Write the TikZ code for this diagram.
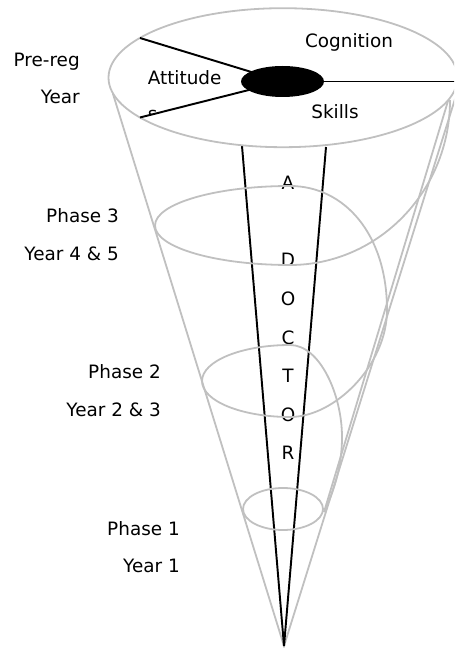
\documentclass[tikz,border=0pt]{standalone}
\usepackage{fontspec}
\setmainfont{DejaVu Sans}
\definecolor{lgray}{RGB}{192,192,192}
\begin{document}
\begin{tikzpicture}[x=0.75pt,y=-0.75pt,
  gline/.style={draw=lgray,line width=1.35pt},
  bline/.style={draw=black,line width=1.45pt},
  lbl/.style={font=\fontsize{13.8}{16}\selectfont,inner sep=0pt}]
\useasboundingbox (0,0) rectangle (454,648);
\clip (0,0) rectangle (454,648);
% text of the column
\foreach \t/\yy [count=\i] in {A/190,D/267,O/305.5,C/344,T/382.5,O/421,R/459.5}
  \node[lbl,anchor=base] (doc\i) at (288,\yy) {\t};
% cone
\coordinate (apex) at (284,646);
\coordinate (cl) at (113,94);
\coordinate (cr) at (455,99);
\draw[gline] (cl) -- (apex) -- (cr);
% inner right line
\coordinate (p1r) at (324,512);
\coordinate (inTop) at (448,101);
\draw[gline] (p1r) -- (inTop);
% black column lines
\coordinate (bl) at (242,146);
\coordinate (br) at (326,147);
\draw[bline] (bl) -- (apex) -- (br);
% top ellipse
\draw[gline] (283,77.7) ellipse [x radius=174.5, y radius=69.5];
% Phase 3
\draw[gline] (290,186) .. controls (215.4,186) and (155,203.7) .. (155,225.5)
  .. controls (155,247.3) and (215.4,265) .. (290,265)
  .. controls (378.4,265) and (450,191) .. (450,100);
\draw[gline] (290,186) .. controls (345,186) and (387,235) .. (387,310)
  .. controls (387,365) and (335,417) .. (290,417);
% Phase 2
\draw[gline] (290,345) .. controls (241.4,345) and (202,361.1) .. (202,381)
  .. controls (202,400.9) and (241.4,417) .. (290,417);
\draw[gline] (290,345) .. controls (320,345) and (342,395) .. (342,437)
  .. controls (342,470) and (332,495) .. (p1r);
% Phase 1
\draw[gline] (283,509) ellipse [x radius=40, y radius=21];
% spokes and hub
\coordinate (hub) at (282.5,81.5);
\draw[bline] (140,38) -- (hub);
\draw[bline] (140,117.5) -- (hub);
\draw[bline] (hub) -- (460,81.5);
\fill[black] (hub) ellipse [x radius=41.5, y radius=15.5];
% labels in the top
\node[lbl,anchor=base west] (att) at (147.5,84.3) {Attitude};
\begin{scope}
\clip (140,100) rectangle (170,114.5);
\node[lbl,anchor=base west] (atts) at (147.5,121) {s};
\end{scope}
\node[lbl,anchor=base] (cog) at (349,47.7) {Cognition};
\node[lbl,anchor=base] (ski) at (335,118.3) {Skills};
% side labels
\node[lbl,anchor=base east] (pr1) at (80,66.7) {Pre-reg};
\node[lbl,anchor=base east] (pr2) at (80,104) {Year};
\node[lbl,anchor=base east] (ph3) at (119,222.7) {Phase 3};
\node[lbl,anchor=base east] (yr3) at (119,260.7) {Year 4 \& 5};
\node[lbl,anchor=base east] (ph2) at (161,378.3) {Phase 2};
\node[lbl,anchor=base east] (yr2) at (161,416.7) {Year 2 \& 3};
\node[lbl,anchor=base east] (ph1) at (180,535) {Phase 1};
\node[lbl,anchor=base east] (yr1) at (180,572.7) {Year 1};
\end{tikzpicture}
\end{document}
